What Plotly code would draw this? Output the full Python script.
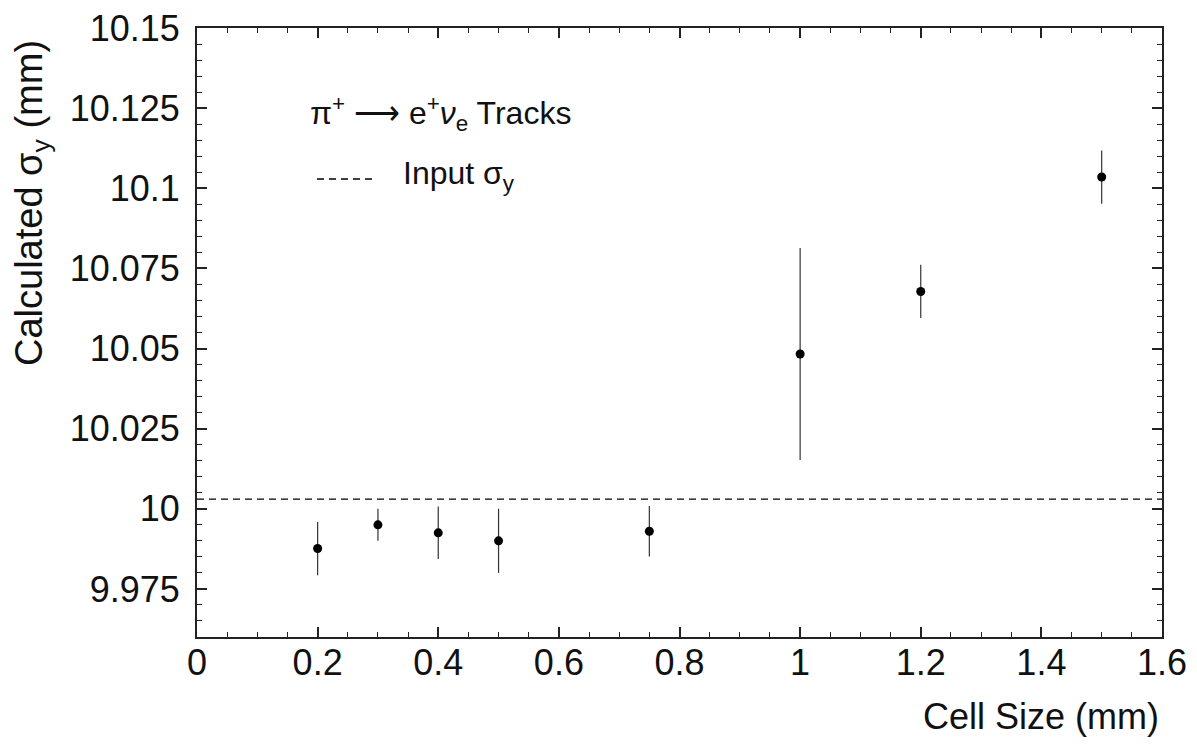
import plotly.graph_objects as go

# ---- data ----
cell_size = [0.2, 0.3, 0.4, 0.5, 0.75, 1.0, 1.2, 1.5]
sigma_y = [9.9876, 9.9950, 9.9925, 9.9900, 9.9930, 10.0483, 10.0678, 10.1035]
sigma_err = [0.0083, 0.0050, 0.0082, 0.0100, 0.0079, 0.0331, 0.0083, 0.0083]
input_sigma = 10.003
x_range = [0.0, 1.6]
y_range = [9.96, 10.15]
x_tickvals = [0, 0.2, 0.4, 0.6, 0.8, 1.0, 1.2, 1.4, 1.6]
x_ticktext = ["0", "0.2", "0.4", "0.6", "0.8", "1", "1.2", "1.4", "1.6"]
y_tickvals = [9.975, 10.0, 10.025, 10.05, 10.075, 10.1, 10.125, 10.15]
y_ticktext = ["9.975", "10", "10.025", "10.05", "10.075", "10.1", "10.125", "10.15"]

FONT = "Liberation Sans, Arial, sans-serif"
W, H = 1197, 745
L, R, T, B = 197, 35, 28, 108
pw, ph = W - L - R, H - T - B


def px_x(px):
    return (px - L) / pw


def px_y(py):
    return (H - B - py) / ph


fig = go.Figure()

fig.add_trace(go.Scatter(
    x=x_range, y=[input_sigma, input_sigma], mode="lines",
    line=dict(color="black", width=1.3, dash="7px,5px"),
    showlegend=False, hoverinfo="skip"))

fig.add_trace(go.Scatter(
    x=cell_size, y=sigma_y, mode="markers",
    marker=dict(color="black", size=9, symbol="circle"),
    error_y=dict(type="data", array=sigma_err, visible=True,
                 color="#333333", thickness=1.2, width=0),
    showlegend=False))

axis_common = dict(
    showgrid=False, zeroline=False, showline=True, linecolor="#222222",
    linewidth=2, mirror="ticks", ticks="inside", ticklen=10, tickwidth=1.5,
    tickcolor="#222222", automargin=False,
    tickfont=dict(family=FONT, size=36, color="#111111"),
)

fig.update_xaxes(
    range=x_range, tickmode="array", tickvals=x_tickvals, ticktext=x_ticktext,
    minor=dict(dtick=0.05, ticks="inside", ticklen=5, tickwidth=1.2,
               tickcolor="#222222"),
    ticklabelstandoff=-7,
    **axis_common)
fig.update_yaxes(
    range=y_range, tickmode="array", tickvals=y_tickvals, ticktext=y_ticktext,
    minor=dict(dtick=0.005, tick0=9.96, ticks="inside", ticklen=5,
               tickwidth=1.2, tickcolor="#222222"),
    ticklabelstandoff=8,
    **axis_common)

annotations = [
    dict(text="Cell Size (mm)", xref="paper", yref="paper",
         x=px_x(1161), y=px_y(716), xanchor="right", yanchor="middle",
         showarrow=False, font=dict(family=FONT, size=36, color="#111111")),
    dict(text="Calculated σ<sub>y</sub> (mm)", xref="paper", yref="paper",
         x=px_x(32), y=px_y(38), xanchor="center", yanchor="top",
         textangle=-90, showarrow=False,
         font=dict(family=FONT, size=38, color="#111111")),
    dict(text="π<sup>+</sup> ⟶ e<sup>+</sup><i>ν</i><sub>e</sub> Tracks",
         xref="paper", yref="paper", x=px_x(308), y=px_y(113),
         xanchor="left", yanchor="middle", showarrow=False,
         font=dict(family=FONT, size=32, color="#111111")),
    dict(text="Input σ<sub>y</sub>", xref="paper", yref="paper",
         x=px_x(401), y=px_y(175), xanchor="left", yanchor="middle",
         showarrow=False, font=dict(family=FONT, size=32, color="#111111")),
]

shapes = [
    dict(type="line", xref="paper", yref="paper",
         x0=px_x(317), x1=px_x(375), y0=px_y(179), y1=px_y(179),
         line=dict(color="black", width=1.3, dash="7px,5px")),
]

fig.update_layout(
    width=W, height=H,
    margin=dict(l=L, r=R, t=T, b=B),
    paper_bgcolor="white", plot_bgcolor="white",
    annotations=annotations, shapes=shapes,
    font=dict(family=FONT, color="black"),
)

fig.write_html("out.html", config={"displayModeBar": False})

# remove the browser's default 8px body margin so the figure sits at (0, 0)
with open("out.html", "r", encoding="utf-8") as f:
    html = f.read()
html = html.replace("<head>", "<head><style>html,body{margin:0;padding:0;overflow:hidden;}</style>", 1)
with open("out.html", "w", encoding="utf-8") as f:
    f.write(html)
